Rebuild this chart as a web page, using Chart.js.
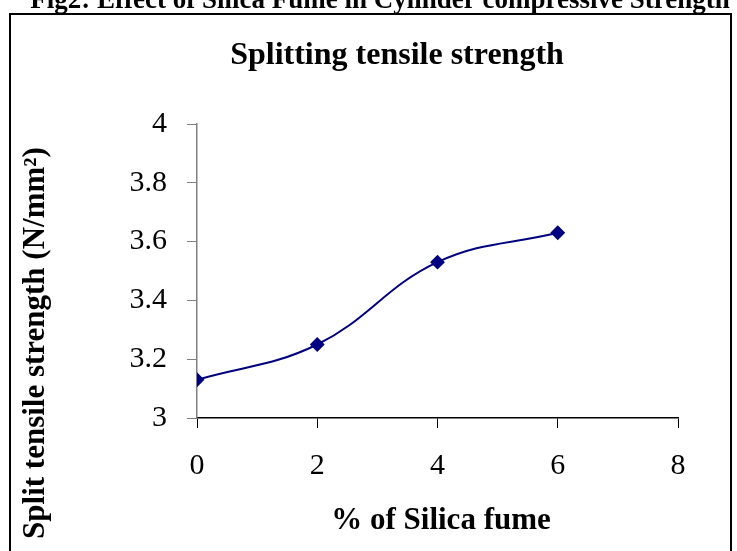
<!DOCTYPE html>
<html>
<head>
<meta charset="utf-8">
<script src="https://cdn.jsdelivr.net/npm/chart.js@4"></script>
<style>
html,body{margin:0;padding:0;background:#fff;}
#wrap{position:relative;width:737px;height:551px;}
</style>
</head>
<body>
<div id="wrap"><canvas id="c" width="737" height="551"></canvas></div>
<script>
const silicaFume = [0, 2, 4, 6];
const splitStrength = [3.13, 3.25, 3.53, 3.63];
const xTicks = [0, 2, 4, 6, 8];
const yTicks = [3, 3.2, 3.4, 3.6, 3.8, 4];
const caption = "Fig2: Effect of Silica Fume in Cylinder compressive Strength";
const chartTitle = "Splitting tensile strength";
const xTitle = "% of Silica fume";
const yTitle = "Split tensile strength (N/mm²)";

const serif = "'Liberation Serif', 'Times New Roman', serif";

const frame = {
  id: 'frame',
  beforeDraw(chart) {
    const ctx = chart.ctx;
    ctx.save();
    ctx.fillStyle = '#fff';
    ctx.fillRect(0, 0, chart.width, chart.height);
    ctx.strokeStyle = '#000';
    ctx.lineWidth = 2;
    ctx.strokeRect(10, 14, 721, 560);
    ctx.fillStyle = '#000';
    ctx.textAlign = 'center';
    ctx.textBaseline = 'alphabetic';
    ctx.font = 'bold 27px ' + serif;
    ctx.fillText(caption, 380, 8);
    ctx.textBaseline = 'middle';
    ctx.font = 'bold 32px ' + serif;
    ctx.fillText(chartTitle, 397, 56);
    ctx.font = 'bold 31px ' + serif;
    ctx.fillText(xTitle, 441, 521);
    ctx.translate(36, 343);
    ctx.rotate(-Math.PI / 2);
    ctx.fillText(yTitle, 0, 0);
    ctx.restore();
  }
};

new Chart(document.getElementById('c'), {
  type: 'line',
  data: {
    datasets: [{
      data: silicaFume.map((x, i) => ({x: x, y: splitStrength[i]})),
      borderColor: '#000080',
      backgroundColor: '#000080',
      borderWidth: 2,
      tension: 0.4,
      pointStyle: 'rectRot',
      pointRadius: 6,
      pointHoverRadius: 6,
      fill: false
    }]
  },
  options: {
    responsive: false,
    animation: false,
    layout: { padding: { left: 0, right: 59, top: 124, bottom: 0 } },
    plugins: {
      legend: { display: false },
      tooltip: { enabled: false },
      title: { display: false }
    },
    scales: {
      x: {
        type: 'linear',
        min: 0, max: 8,
        afterBuildTicks(s) { s.ticks = xTicks.map(v => ({value: v})); },
        afterFit(s) { s.height = 133; },
        grid: { drawOnChartArea: false, drawTicks: true, tickLength: 10, color: '#000', tickColor: '#000' },
        border: { color: '#000', width: 1.5 },
        ticks: { color: '#000', padding: 20, font: { family: serif, size: 30 } }
      },
      y: {
        type: 'linear',
        min: 3, max: 4,
        afterBuildTicks(s) { s.ticks = yTicks.map(v => ({value: v})); },
        afterFit(s) { s.width = 197; },
        grid: { drawOnChartArea: false, drawTicks: true, tickLength: 10, color: '#808080', tickColor: '#808080' },
        border: { color: '#808080', width: 1.5 },
        ticks: { color: '#000', padding: 20, font: { family: serif, size: 30 }, callback: v => String(+v.toFixed(1)) }
      }
    }
  },
  plugins: [frame]
});
</script>
</body>
</html>
